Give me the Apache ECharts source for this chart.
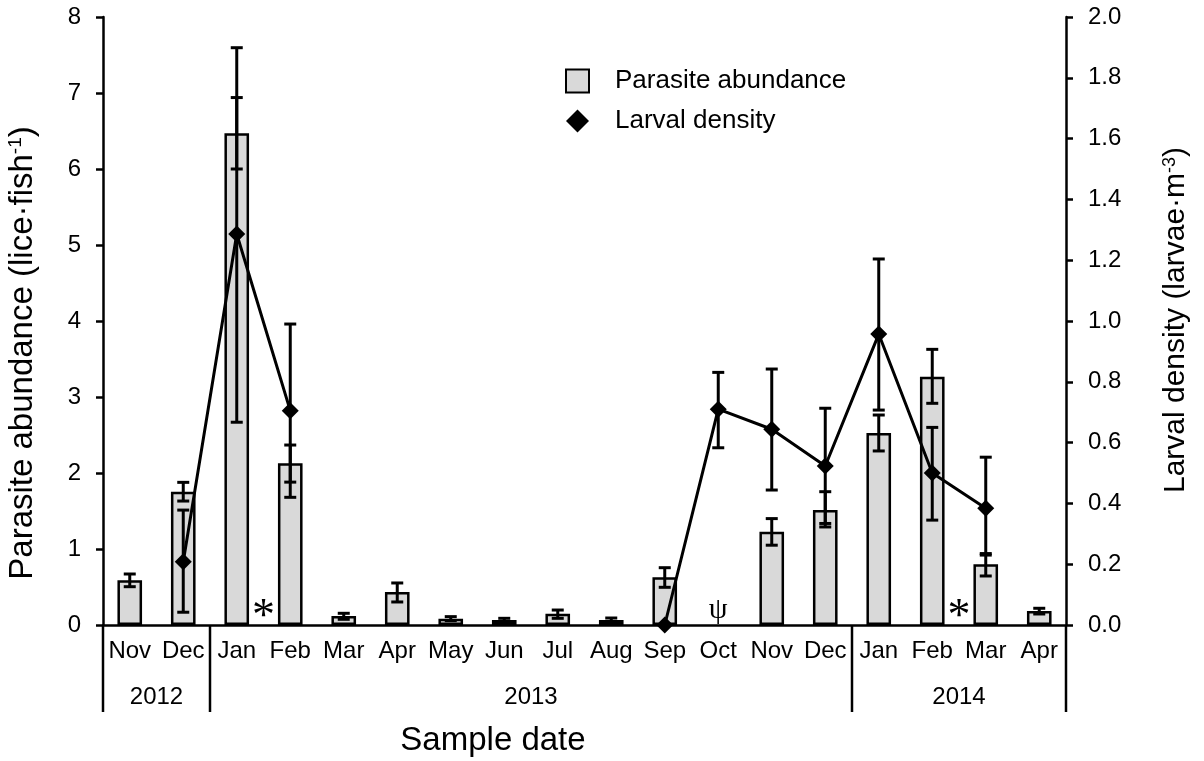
<!DOCTYPE html>
<html><head><meta charset="utf-8">
<script src="https://cdn.jsdelivr.net/npm/echarts@6/dist/echarts.min.js"></script>
<style>html,body{margin:0;padding:0;background:#fff}#c{width:1204px;height:761px}</style>
</head><body><div id="c"></div>
<script>
// ---- data ----
const categories = ['Nov 2012','Dec 2012','Jan 2013','Feb 2013','Mar 2013','Apr 2013','May 2013','Jun 2013','Jul 2013','Aug 2013','Sep 2013','Oct 2013','Nov 2013','Dec 2013','Jan 2014','Feb 2014','Mar 2014','Apr 2014'];
const parasiteAbundance = [0.588,1.754,6.47,2.127,0.118,0.434,0.083,0.066,0.149,0.066,0.627,null,1.228,1.513,2.526,3.267,0.798,0.184];
const parasiteLow  = [0.504,1.631,6.0,1.88,0.075,0.303,0.057,0.044,0.088,0.039,0.496,null,1.05,1.29,2.29,2.917,0.645,0.145];
const parasiteHigh = [0.671,1.877,6.94,2.368,0.154,0.553,0.11,0.088,0.197,0.092,0.754,null,1.40,1.754,2.763,3.627,0.92,0.22];
const larvalDensity = [null,0.208,1.286,0.705,null,null,null,null,null,null,0.0,0.71,0.644,0.523,0.957,0.50,0.384,null];
const larvalLow  = [null,0.042,0.667,0.42,null,null,null,null,null,null,null,0.583,0.444,0.334,0.707,0.345,0.235,null];
const larvalHigh = [null,0.378,1.899,0.99,null,null,null,null,null,null,null,0.831,0.842,0.713,1.204,0.65,0.552,null];
const leftTicks = ['0','1','2','3','4','5','6','7','8'];
const rightTicks = ['0.0','0.2','0.4','0.6','0.8','1.0','1.2','1.4','1.6','1.8','2.0'];
const years = ['2012','2013','2014'];
const yearStart = [0,2,14];
const yearEnd = [1,13,17];
const annotations = [{text:'*', after:2},{text:'\u03C8', at:11},{text:'*', after:15}];

const FONT = '"Liberation Sans", Arial, sans-serif';
const SERIF = '"Liberation Serif", "Times New Roman", serif';

function errItem(lo, hi){ return categories.map((c,i)=> lo[i]==null ? null : [i, lo[i], hi[i]]).filter(d=>d); }

function renderErr(params, api){
  const x = api.value(0), lo = api.value(1), hi = api.value(2);
  const p1 = api.coord([x, hi]), p2 = api.coord([x, lo]);
  const hw = 6;
  const st = {stroke:'#000', lineWidth:3};
  return {type:'group', children:[
    {type:'line', shape:{x1:p1[0],y1:p1[1],x2:p2[0],y2:p2[1]}, style:st},
    {type:'line', shape:{x1:p1[0]-hw,y1:p1[1],x2:p1[0]+hw,y2:p1[1]}, style:st},
    {type:'line', shape:{x1:p2[0]-hw,y1:p2[1],x2:p2[0]+hw,y2:p2[1]}, style:st}
  ]};
}

const chart = echarts.init(document.getElementById('c'), null, {renderer:'canvas'});
const axisLine = {show:true, lineStyle:{color:'#000', width:2.5}};
chart.setOption({
  animation:false,
  backgroundColor:'#fff',
  textStyle:{fontFamily:FONT},
  grid:{left:103, right:138, top:17, bottom:136, containLabel:false, outerBoundsMode:'none'},
  legend:{
    orient:'vertical', left:560, top:63, itemWidth:23, itemHeight:23, itemGap:14,
    selectedMode:false,
    textStyle:{fontFamily:FONT, fontSize:26, color:'#000', padding:[0,0,0,21]},
    data:[{name:'Parasite abundance', icon:'rect'},{name:'Larval density', icon:'diamond'}]
  },
  xAxis:{
    type:'category', data:categories,
    axisLine:axisLine, axisTick:{show:false},
    axisLabel:{interval:0, color:'#000', fontSize:24, fontFamily:FONT, margin:14,
      formatter:v=>v.split(' ')[0]},
    splitLine:{show:false}
  },
  yAxis:[
    {type:'value', min:0, max:8, interval:1, position:'left',
     axisLine:axisLine, axisTick:{show:true, length:7, lineStyle:{color:'#000', width:2.5}},
     axisLabel:{color:'#000', fontSize:24, fontFamily:FONT, margin:22, formatter:v=>leftTicks[Math.round(v)]},
     splitLine:{show:false}},
    {type:'value', min:0, max:2, interval:0.2, position:'right',
     axisLine:axisLine, axisTick:{show:true, length:7, lineStyle:{color:'#000', width:2.5}},
     axisLabel:{color:'#000', fontSize:24, fontFamily:FONT, margin:22, formatter:v=>rightTicks[Math.round(v*5)]},
     splitLine:{show:false}}
  ],
  series:[
    {name:'Parasite abundance', type:'bar', yAxisIndex:0, data:parasiteAbundance, barWidth:'46%',
     itemStyle:{color:'#d9d9d9', borderColor:'#000', borderWidth:2.5}, z:2},
    {type:'custom', yAxisIndex:0, data:errItem(parasiteLow, parasiteHigh), renderItem:renderErr, z:3, silent:true},
    {name:'Larval density', type:'line', yAxisIndex:1, data:larvalDensity, connectNulls:false,
     symbol:'diamond', symbolSize:17, showAllSymbol:true,
     itemStyle:{color:'#000'}, lineStyle:{color:'#000', width:3}, z:4},
    {type:'custom', yAxisIndex:1, data:errItem(larvalLow, larvalHigh), renderItem:renderErr, z:5, silent:true}
  ]
});

// ---- annotations, year groups, axis titles (positions derived from the chart's scales) ----
const px = i => chart.convertToPixel({xAxisIndex:0}, i);
const y0 = chart.convertToPixel({yAxisIndex:0}, 0);
const step = px(1) - px(0);
const edgeL = i => px(i) - step/2;
const edgeR = i => px(i) + step/2;
const g = [];
const boundaries = [edgeL(yearStart[0])].concat(yearEnd.map(edgeR));
boundaries.forEach(x => g.push({type:'line', shape:{x1:x, y1:y0, x2:x, y2:y0+87}, style:{stroke:'#000', lineWidth:2.5}, z:10}));
years.forEach((y,k) => g.push({type:'text', x:(edgeL(yearStart[k])+edgeR(yearEnd[k]))/2, y:y0+72,
  style:{text:y, font:'24px '+FONT, fill:'#000', align:'center', verticalAlign:'middle'}, z:10}));
annotations.forEach(a => {
  const x = a.after!=null ? edgeR(a.after) : px(a.at);
  const isStar = a.text==='*';
  g.push({type:'text', x:x, y: isStar ? y0-7 : y0-15,
    style:{text:a.text, font:(isStar?'46px ':'30px ')+SERIF, fill:'#000', align:'center', verticalAlign:'middle'}, z:10});
});
g.push({type:'text', x:23, y:353, rotation:Math.PI/2,
  style:{text:'{a|Parasite abundance (lice\u00B7fish}{s|-1}{a|)}', align:'center', verticalAlign:'middle',
    rich:{a:{fontSize:33, fontFamily:FONT, fill:'#000'}, s:{fontSize:19, fontFamily:FONT, fill:'#000', verticalAlign:'top'}}}});
g.push({type:'text', x:1176, y:320, rotation:Math.PI/2,
  style:{text:'{a|Larval density (larvae\u00B7m}{s|-3}{a|)}', align:'center', verticalAlign:'middle',
    rich:{a:{fontSize:30, fontFamily:FONT, fill:'#000'}, s:{fontSize:18, fontFamily:FONT, fill:'#000', verticalAlign:'top'}}}});
g.push({type:'text', x:493, y:741,
  style:{text:'Sample date', font:'33px '+FONT, fill:'#000', align:'center', verticalAlign:'middle'}});
chart.setOption({graphic:g});
</script>
</body></html>
